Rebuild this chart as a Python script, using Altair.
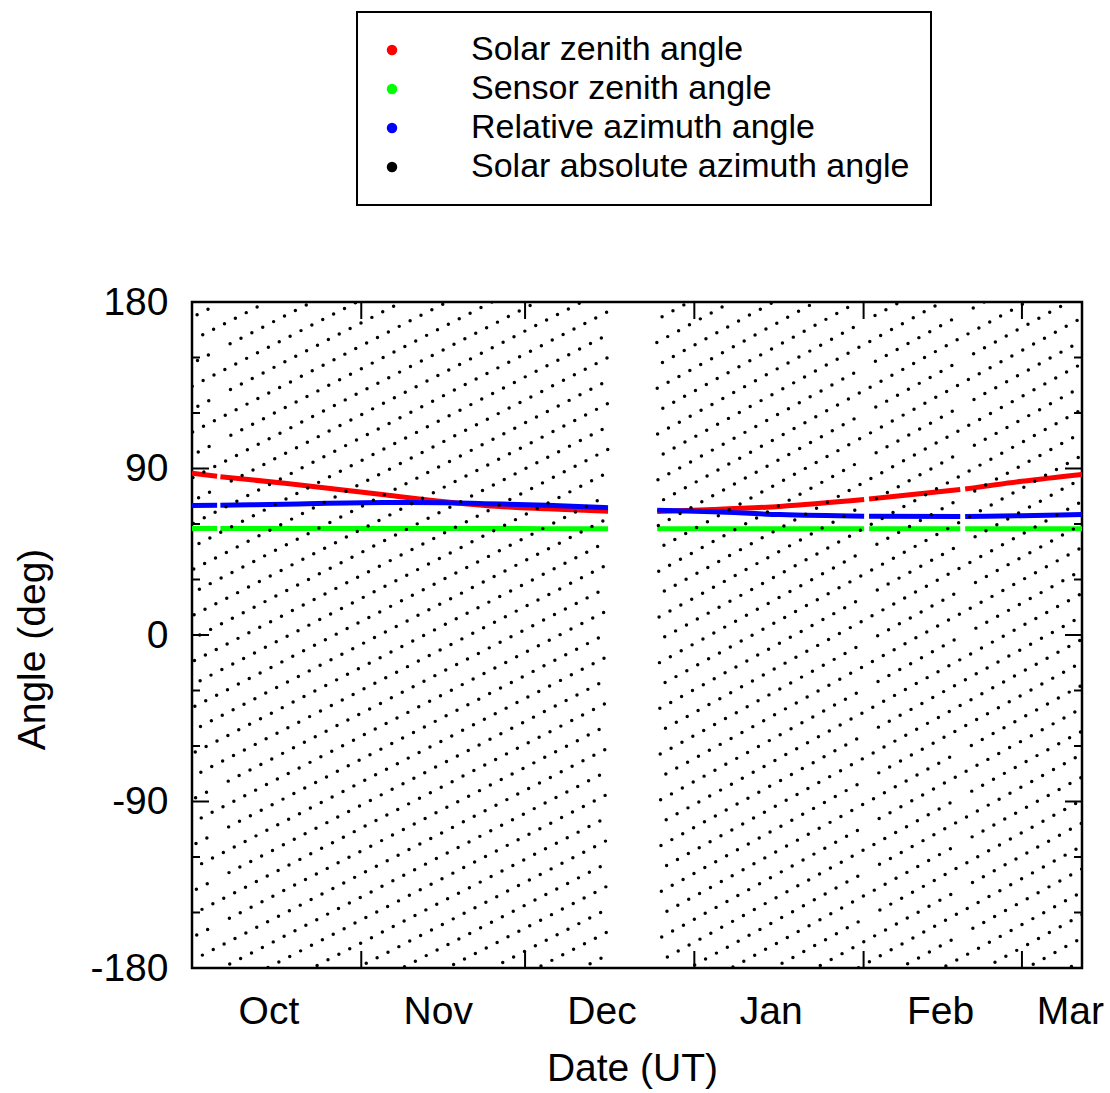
import math
from datetime import datetime, timedelta

import altair as alt
import pandas as pd

FONT = "Liberation Sans"
START = datetime(2011, 10, 1)          # left edge of the time axis (UT)

# ---------------------------------------------------------------- data ----
series_names = [
    "Solar zenith angle",
    "Sensor zenith angle",
    "Relative azimuth angle",
    "Solar absolute azimuth angle",
]
series_colors = ["#ff0000", "#00ff00", "#0000ff", "#000000"]

# month labels (placed mid-month) and month-boundary tick marks
month_label_dates = [(2011, 10, 15, 0), (2011, 11, 15, 0), (2011, 12, 15, 0),
                     (2012, 1, 15, 0), (2012, 2, 15, 0), (2012, 3, 9, 19)]
month_tick_dates = ["2011-11-01T00:00:00", "2011-12-01T00:00:00",
                    "2012-01-01T00:00:00", "2012-02-01T00:00:00",
                    "2012-03-01T00:00:00"]
y_label_values = [-180, -90, 0, 90, 180]
y_minor_values = [-150, -120, -60, -30, 30, 60, 120, 150]

# curves (days after 1 Oct 2011)
anchor_days = [0.0, 4.6, 5.2, 17.0, 35.2, 46.3, 53.6, 65.0, 76.2,
               85.2, 95.4, 107.7, 123.1, 124.0, 140.7, 141.6, 152.0, 163.0]
solar_zenith = [87.4, 85.8, 85.6, 82.0, 75.8, 72.0, 70.0, 68.2, 66.9,
                66.8, 67.8, 69.5, 73.2, 73.5, 78.6, 78.9, 83.1, 86.8]
sensor_zenith = [57.6, 57.6, 57.6, 57.6, 57.6, 57.6, 57.6, 57.5, 57.5,
                 57.5, 57.5, 57.5, 57.5, 57.5, 57.4, 57.4, 57.4, 57.4]
relative_azimuth = [70.0, 70.1, 70.1, 70.7, 71.6, 71.5, 71.0, 70.2, 68.8,
                    67.5, 66.6, 65.1, 64.2, 64.2, 64.0, 64.0, 64.5, 65.1]

# data gaps (days)
gap_days = [(4.6, 5.2), (76.2, 85.2), (123.1, 124.0), (140.7, 141.6)]
small_gap_days = [(4.6, 5.2), (123.1, 124.0), (140.7, 141.6)]

# solar absolute azimuth: one sample per satellite orbit, read as a lattice
dot_ranges = [(0.0, 76.2), (85.1, 163.0)]
dot_anchor_day = [2.38, 107.38]
dot_anchor_angle = [13.9, 69.7]
orbit_period_day = [0.068678, 0.068659]


def iso(day):
    return (START + timedelta(days=day)).strftime("%Y-%m-%dT%H:%M:%S")


def line_frame(vals):
    rows = []
    for d, v in zip(anchor_days, vals):
        seg = sum(1 for g0, g1 in gap_days if d >= g1 - 1e-9)
        rows.append({"date": iso(d), "value": v, "seg": seg})
    return pd.DataFrame(rows)


dot_rows = []
for (d0, d1), da, aa, T in zip(dot_ranges, dot_anchor_day, dot_anchor_angle, orbit_period_day):
    k0 = math.ceil((d0 - da) / T)
    k1 = math.floor((d1 - da) / T)
    for k in range(k0, k1 + 1):
        d = da + k * T
        if any(g0 < d < g1 for g0, g1 in small_gap_days):
            continue
        ang = (aa - 360.0 * k * T + 180.0) % 360.0 - 180.0
        dot_rows.append({"date": iso(d), "value": ang, "series": series_names[3]})
dot_df = pd.DataFrame(dot_rows)

xtick_df = pd.DataFrame({"date": month_tick_dates})
ymaj_df = pd.DataFrame({"value": y_label_values})
ymin_df = pd.DataFrame({"value": y_minor_values})

# -------------------------------------------------------------- layout ----
W, H = 890, 666
MAJ, MIN = 17, 8

x_scale = alt.Scale(domain=[alt.DateTime(year=2011, month=10, date=1),
                            alt.DateTime(year=2012, month=3, date=12)], nice=False)
y_scale = alt.Scale(domain=[-180, 180], nice=False, zero=False)
color_scale = alt.Scale(domain=series_names, range=series_colors)

x_axis = alt.Axis(
    values=[alt.DateTime(year=y, month=m, date=d, hours=h) for y, m, d, h in month_label_dates],
    labelExpr="timeFormat(datum.value, '%b')",
    ticks=False, domain=False, grid=False, labelFlush=False, labelOverlap=False,
    labelFont=FONT, labelFontSize=39, labelColor="black", labelPadding=55,
    labelBaseline="alphabetic",
    title="Date (UT)", titleFont=FONT, titleFontSize=39, titleFontWeight="normal",
    titleColor="black", titleX=440, titleY=112, titleAlign="center",
    titleBaseline="alphabetic",
)
y_axis = alt.Axis(
    values=y_label_values, labelExpr="'' + datum.value",
    ticks=False, domain=False, grid=False,
    labelFont=FONT, labelFontSize=39, labelColor="black", labelPadding=24,
    labelBaseline="middle", labelFlush=False,
    title="Angle (deg)", titleFont=FONT, titleFontSize=39, titleFontWeight="normal",
    titleColor="black", titleX=-148, titleY=347, titleAngle=270, titleAlign="center",
    titleBaseline="alphabetic",
)

X = alt.X("date:T", scale=x_scale, axis=x_axis)
Y = alt.Y("value:Q", scale=y_scale, axis=y_axis)

line_layers = [
    alt.Chart(line_frame(vals)).mark_line(
        strokeWidth=5, interpolate="monotone", clip=True, color=col
    ).encode(x=X, y=Y, detail="seg:N")
    for vals, col in zip([solar_zenith, sensor_zenith, relative_azimuth], series_colors[:3])
]

rule = dict(color="black", strokeWidth=2)
tick_layers = [
    alt.Chart(xtick_df).mark_rule(**rule).encode(x=X, y=alt.value(H - MAJ), y2=alt.value(H)),
    alt.Chart(xtick_df).mark_rule(**rule).encode(x=X, y=alt.value(0), y2=alt.value(MAJ)),
    alt.Chart(ymaj_df).mark_rule(**rule).encode(y=Y, x=alt.value(0), x2=alt.value(MAJ)),
    alt.Chart(ymaj_df).mark_rule(**rule).encode(y=Y, x=alt.value(W - MAJ), x2=alt.value(W)),
    alt.Chart(ymin_df).mark_rule(**rule).encode(y=Y, x=alt.value(0), x2=alt.value(MIN)),
    alt.Chart(ymin_df).mark_rule(**rule).encode(y=Y, x=alt.value(W - MIN), x2=alt.value(W)),
]

dots = alt.Chart(dot_df).mark_circle(size=12, opacity=1, clip=True).encode(
    x=X, y=Y,
    color=alt.Color(
        "series:N", scale=color_scale,
        legend=alt.Legend(
            title=None, orient="none", legendX=165, legendY=-290, direction="vertical",
            symbolType="circle", symbolSize=110, symbolStrokeWidth=0, symbolOpacity=1,
            symbolOffset=-3, labelOffset=62, labelFont=FONT, labelFontSize=34,
            labelColor="black", labelLimit=600, padding=21, rowPadding=5,
            strokeColor="black", fillColor="white",
        ),
    ),
)

chart = alt.layer(*line_layers, *tick_layers, dots).properties(
    width=W, height=H,
    autosize=alt.AutoSizeParams(type="none"),
    padding={"left": 192, "top": 302, "right": 28, "bottom": 125},
).configure(font=FONT, background="white").configure_view(
    stroke="black", strokeWidth=2.5
).configure_legend(strokeWidth=2)

chart.save("out.html", embed_options={"renderer": "svg", "actions": False})
